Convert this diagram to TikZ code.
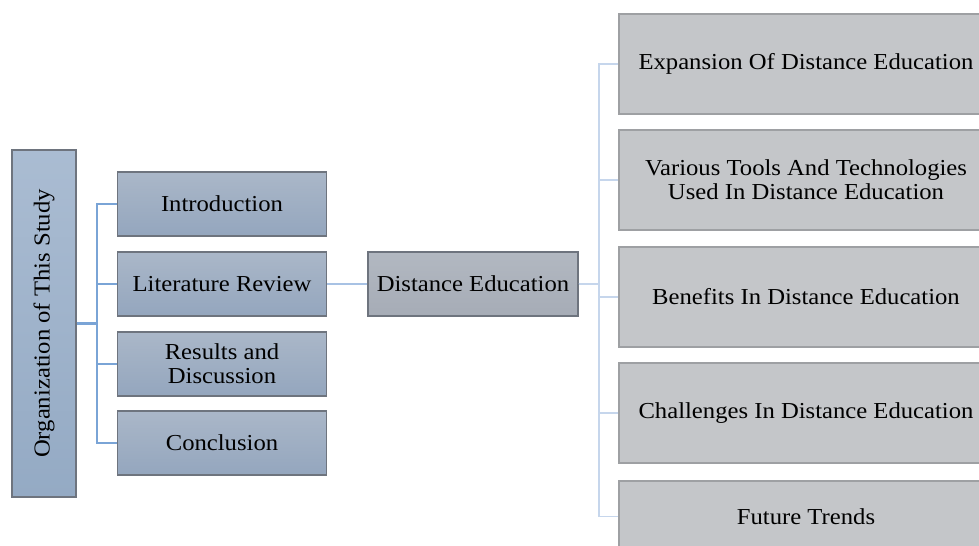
\documentclass[tikz,border=0pt]{standalone}
\usepackage{fontspec}
\setmainfont[FakeStretch=1.08]{Liberation Serif}

\definecolor{rootTop}{RGB}{170,188,210}
\definecolor{rootBot}{RGB}{148,170,196}
\definecolor{partTop}{RGB}{170,183,200}
\definecolor{partBot}{RGB}{148,166,190}
\definecolor{edTop}{RGB}{178,184,193}
\definecolor{edBot}{RGB}{166,172,182}
\definecolor{topicFill}{RGB}{196,198,201}
\definecolor{darkEdge}{RGB}{110,116,126}
\definecolor{greyEdge}{RGB}{158,160,163}
\definecolor{leftLink}{RGB}{122,164,214}
\definecolor{midLink}{RGB}{168,194,228}
\definecolor{rightLink}{RGB}{198,214,236}

\tikzset{
  partbox/.style={draw=darkEdge, line width=0.8pt, top color=partTop, bottom color=partBot,
    minimum width=4.18cm, minimum height=1.28cm, align=center, inner sep=2pt,
    font=\fontsize{13}{13.6}\selectfont},
  topicbox/.style={draw=greyEdge, line width=0.8pt, fill=topicFill,
    minimum width=7.48cm, minimum height=2cm, align=center, inner sep=2pt,
    font=\fontsize{13}{13.6}\selectfont},
  leftlink/.style={draw=leftLink, line width=1.6pt},
  rightlink/.style={draw=rightLink, line width=1.1pt}
}

\begin{document}
\begin{tikzpicture}[x=0.02cm, y=-0.02cm]%
\useasboundingbox (0,0) rectangle (979,545);%
\clip (0,0) rectangle (979,545);%
% root, turned on its side
\node[draw=darkEdge, line width=0.8pt, rotate=90, top color=rootTop, bottom color=rootBot,
  minimum width=6.94cm, minimum height=1.28cm, font=\fontsize{13}{13.6}\selectfont]
  (root) at (44, 323.5) {Organization of This Study};%
% parts of the study
\node[partbox] (intro) at (222, 204) {Introduction};%
\node[partbox] (litrev) at (222, 284) {Literature Review};%
\node[partbox] (results) at (222, 364) {Results and\\Discussion};%
\node[partbox] (concl) at (222, 443) {Conclusion};%
\node[partbox, top color=edTop, bottom color=edBot, minimum width=4.2cm] (disted) at (473, 284) {Distance Education};%
% topics of distance education
\node[topicbox] (expansion) at (806, 64) {Expansion Of Distance Education};%
\node[topicbox] (tools) at (806, 180) {Various Tools And Technologies\\Used In Distance Education};%
\node[topicbox] (benefits) at (806, 297) {Benefits In Distance Education};%
\node[topicbox] (challenges) at (806, 413) {Challenges In Distance Education};%
\node[topicbox, minimum height=1.42cm] (trends) at (806, 516.5) {Future Trends};%
% connectors
\coordinate (ltrunk) at (97, 323.5);%
\coordinate (rtrunk) at (599, 284);%
\foreach \part in {intro, litrev, results, concl}
  \draw[leftlink] (root.south) -- (ltrunk) |- (\part.west);%
\draw[draw=midLink, line width=1.1pt] (litrev.east) -- (disted.west);%
\foreach \topic in {expansion, tools, benefits, challenges, trends}
  \draw[rightlink] (disted.east) -- (rtrunk) |- (\topic.west);%
\end{tikzpicture}
\end{document}
